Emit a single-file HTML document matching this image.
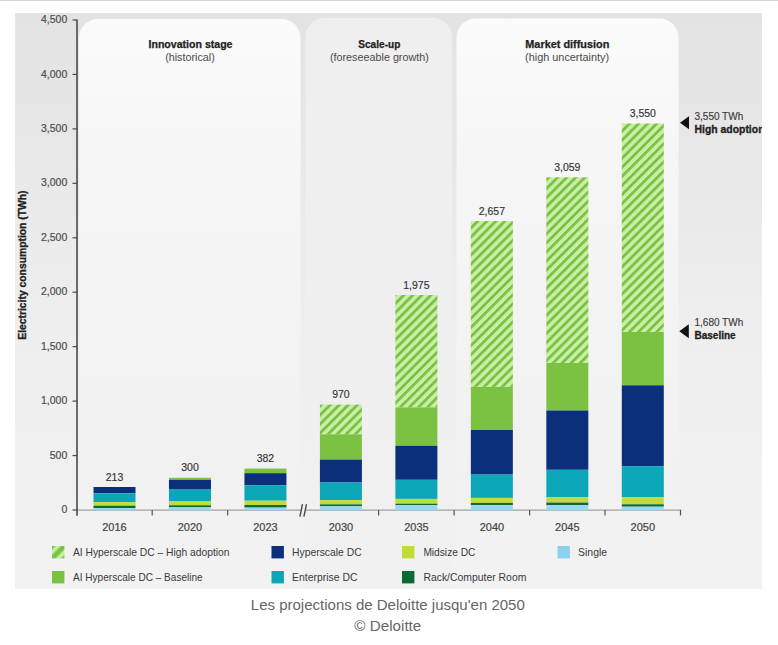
<!DOCTYPE html><html><head><meta charset="utf-8"><style>
html,body{margin:0;padding:0;background:#fff;}
body{width:778px;height:645px;position:relative;overflow:hidden;font-family:"Liberation Sans", sans-serif;}
svg{position:absolute;left:0;top:0;}
.cap{position:absolute;left:0;width:778px;text-align:center;font-size:14px;color:#616161;white-space:nowrap;}
</style></head><body>
<svg width="778" height="645" viewBox="0 0 778 645" font-family='"Liberation Sans", sans-serif'>
<defs>
<linearGradient id="bg" x1="0" y1="0" x2="0" y2="1"><stop offset="0" stop-color="#e3e3e3"/><stop offset="0.17" stop-color="#e6e6e6"/><stop offset="0.34" stop-color="#eaeaea"/><stop offset="0.53" stop-color="#eeeeee"/><stop offset="0.76" stop-color="#f0f0f0"/><stop offset="1" stop-color="#f2f2f2"/></linearGradient>
<linearGradient id="pw" x1="0" y1="0" x2="0" y2="1"><stop offset="0" stop-color="#fbfbfb"/><stop offset="0.16" stop-color="#f8f8f8"/><stop offset="0.25" stop-color="#f6f6f6"/><stop offset="0.53" stop-color="#f3f3f3"/><stop offset="0.8" stop-color="#f1f1f1"/><stop offset="1" stop-color="#f2f2f2"/></linearGradient>
<linearGradient id="pg" x1="0" y1="0" x2="0" y2="1"><stop offset="0" stop-color="#efefef"/><stop offset="0.6" stop-color="#efefef"/><stop offset="1" stop-color="#f1f1f1"/></linearGradient>
<pattern id="hatch" patternUnits="userSpaceOnUse" width="6.4" height="6.4" patternTransform="rotate(45)"><rect width="6.4" height="6.4" fill="#c8eea8"/><rect width="2.8" height="6.4" fill="#7cc242"/></pattern>
</defs>
<rect x="0" y="0" width="778" height="1" fill="#d4d4d4"/>
<rect x="15" y="13" width="747" height="576" fill="url(#bg)"/>
<path d="M79.0 588.0 V38.0 A19.0 19.0 0 0 1 98.0 19.0 H281.5 A19.0 19.0 0 0 1 300.5 38.0 V588.0 Z" fill="url(#pw)"/>
<path d="M305.5 588.0 V37.0 A19.0 19.0 0 0 1 324.5 18.0 H433.0 A19.0 19.0 0 0 1 452.0 37.0 V588.0 Z" fill="url(#pg)"/>
<path d="M456.5 588.0 V37.6 A19.0 19.0 0 0 1 475.5 18.6 H659.5 A19.0 19.0 0 0 1 678.5 37.6 V588.0 Z" fill="url(#pw)"/>
<text x="190.5" y="48" text-anchor="middle" font-size="10" font-weight="bold" fill="#222" stroke="#222" stroke-width="0.25" textLength="84.0" lengthAdjust="spacingAndGlyphs">Innovation stage</text>
<text x="190.0" y="60.8" text-anchor="middle" font-size="10" fill="#4a4a4a" textLength="49.7" lengthAdjust="spacingAndGlyphs">(historical)</text>
<text x="379.3" y="48" text-anchor="middle" font-size="10" font-weight="bold" fill="#222" stroke="#222" stroke-width="0.25" textLength="42.0" lengthAdjust="spacingAndGlyphs">Scale-up</text>
<text x="379.4" y="60.8" text-anchor="middle" font-size="10" fill="#4a4a4a" textLength="98.9" lengthAdjust="spacingAndGlyphs">(foreseeable growth)</text>
<text x="567.3" y="48" text-anchor="middle" font-size="10" font-weight="bold" fill="#222" stroke="#222" stroke-width="0.25" textLength="84.0" lengthAdjust="spacingAndGlyphs">Market diffusion</text>
<text x="567.1" y="60.8" text-anchor="middle" font-size="10" fill="#4a4a4a" textLength="84.0" lengthAdjust="spacingAndGlyphs">(high uncertainty)</text>
<line x1="77" y1="510" x2="681.2" y2="510" stroke="#a2a2a2" stroke-width="1.25"/>
<rect x="93.50" y="487.00" width="42" height="6.30" fill="#0c2f7c"/>
<rect x="93.50" y="493.30" width="42" height="8.90" fill="#0ba6b8"/>
<rect x="93.50" y="502.20" width="42" height="3.50" fill="#c0dc3a"/>
<rect x="93.50" y="505.70" width="42" height="2.30" fill="#0b6a36"/>
<rect x="93.50" y="508.00" width="42" height="2.30" fill="#9ad6ee"/>
<text x="114.5" y="480.7" text-anchor="middle" font-size="10.5" fill="#333" stroke="#333" stroke-width="0.15">213</text>
<text x="114.5" y="531.4" text-anchor="middle" font-size="11" fill="#444" stroke="#444" stroke-width="0.2">2016</text>
<rect x="168.97" y="477.80" width="42" height="2.00" fill="#7cc242"/>
<rect x="168.97" y="479.80" width="42" height="9.20" fill="#0c2f7c"/>
<rect x="168.97" y="489.00" width="42" height="12.00" fill="#0ba6b8"/>
<rect x="168.97" y="501.00" width="42" height="4.30" fill="#c0dc3a"/>
<rect x="168.97" y="505.30" width="42" height="2.00" fill="#0b6a36"/>
<rect x="168.97" y="507.30" width="42" height="3.00" fill="#9ad6ee"/>
<text x="190.0" y="470.8" text-anchor="middle" font-size="10.5" fill="#333" stroke="#333" stroke-width="0.15">300</text>
<text x="190.0" y="531.4" text-anchor="middle" font-size="11" fill="#444" stroke="#444" stroke-width="0.2">2020</text>
<rect x="244.44" y="468.60" width="42" height="4.60" fill="#7cc242"/>
<rect x="244.44" y="473.20" width="42" height="12.00" fill="#0c2f7c"/>
<rect x="244.44" y="485.20" width="42" height="15.50" fill="#0ba6b8"/>
<rect x="244.44" y="500.70" width="42" height="4.30" fill="#c0dc3a"/>
<rect x="244.44" y="505.00" width="42" height="2.60" fill="#0b6a36"/>
<rect x="244.44" y="507.60" width="42" height="2.70" fill="#9ad6ee"/>
<text x="265.4" y="462.3" text-anchor="middle" font-size="10.5" fill="#333" stroke="#333" stroke-width="0.15">382</text>
<text x="265.4" y="531.4" text-anchor="middle" font-size="11" fill="#444" stroke="#444" stroke-width="0.2">2023</text>
<rect x="319.91" y="404.60" width="42" height="29.70" fill="url(#hatch)"/>
<rect x="319.91" y="434.30" width="42" height="25.30" fill="#7cc242"/>
<rect x="319.91" y="459.60" width="42" height="22.90" fill="#0c2f7c"/>
<rect x="319.91" y="482.50" width="42" height="17.60" fill="#0ba6b8"/>
<rect x="319.91" y="500.10" width="42" height="4.30" fill="#c0dc3a"/>
<rect x="319.91" y="504.40" width="42" height="1.90" fill="#0b6a36"/>
<rect x="319.91" y="506.30" width="42" height="4.00" fill="#9ad6ee"/>
<text x="340.9" y="398.3" text-anchor="middle" font-size="10.5" fill="#333" stroke="#333" stroke-width="0.15">970</text>
<text x="340.9" y="531.4" text-anchor="middle" font-size="11" fill="#444" stroke="#444" stroke-width="0.2">2030</text>
<rect x="395.38" y="295.00" width="42" height="112.40" fill="url(#hatch)"/>
<rect x="395.38" y="407.40" width="42" height="38.40" fill="#7cc242"/>
<rect x="395.38" y="445.80" width="42" height="34.00" fill="#0c2f7c"/>
<rect x="395.38" y="479.80" width="42" height="19.10" fill="#0ba6b8"/>
<rect x="395.38" y="498.90" width="42" height="4.80" fill="#c0dc3a"/>
<rect x="395.38" y="503.70" width="42" height="1.50" fill="#0b6a36"/>
<rect x="395.38" y="505.20" width="42" height="5.10" fill="#9ad6ee"/>
<text x="416.4" y="288.7" text-anchor="middle" font-size="10.5" fill="#333" stroke="#333" stroke-width="0.15">1,975</text>
<text x="416.4" y="531.4" text-anchor="middle" font-size="11" fill="#444" stroke="#444" stroke-width="0.2">2035</text>
<rect x="470.85" y="221.00" width="42" height="165.90" fill="url(#hatch)"/>
<rect x="470.85" y="386.90" width="42" height="43.10" fill="#7cc242"/>
<rect x="470.85" y="430.00" width="42" height="44.60" fill="#0c2f7c"/>
<rect x="470.85" y="474.60" width="42" height="23.30" fill="#0ba6b8"/>
<rect x="470.85" y="497.90" width="42" height="5.00" fill="#c0dc3a"/>
<rect x="470.85" y="502.90" width="42" height="2.20" fill="#0b6a36"/>
<rect x="470.85" y="505.10" width="42" height="5.20" fill="#9ad6ee"/>
<text x="491.9" y="214.7" text-anchor="middle" font-size="10.5" fill="#333" stroke="#333" stroke-width="0.15">2,657</text>
<text x="491.9" y="531.4" text-anchor="middle" font-size="11" fill="#444" stroke="#444" stroke-width="0.2">2040</text>
<rect x="546.32" y="177.30" width="42" height="185.70" fill="url(#hatch)"/>
<rect x="546.32" y="363.00" width="42" height="47.50" fill="#7cc242"/>
<rect x="546.32" y="410.50" width="42" height="59.30" fill="#0c2f7c"/>
<rect x="546.32" y="469.80" width="42" height="27.30" fill="#0ba6b8"/>
<rect x="546.32" y="497.10" width="42" height="5.50" fill="#c0dc3a"/>
<rect x="546.32" y="502.60" width="42" height="2.60" fill="#0b6a36"/>
<rect x="546.32" y="505.20" width="42" height="5.10" fill="#9ad6ee"/>
<text x="567.3" y="171.0" text-anchor="middle" font-size="10.5" fill="#333" stroke="#333" stroke-width="0.15">3,059</text>
<text x="567.3" y="531.4" text-anchor="middle" font-size="11" fill="#444" stroke="#444" stroke-width="0.2">2045</text>
<rect x="621.79" y="123.50" width="42" height="208.50" fill="url(#hatch)"/>
<rect x="621.79" y="332.00" width="42" height="53.30" fill="#7cc242"/>
<rect x="621.79" y="385.30" width="42" height="80.90" fill="#0c2f7c"/>
<rect x="621.79" y="466.20" width="42" height="31.10" fill="#0ba6b8"/>
<rect x="621.79" y="497.30" width="42" height="7.00" fill="#c0dc3a"/>
<rect x="621.79" y="504.30" width="42" height="2.40" fill="#0b6a36"/>
<rect x="621.79" y="506.70" width="42" height="3.60" fill="#9ad6ee"/>
<text x="642.8" y="117.2" text-anchor="middle" font-size="10.5" fill="#333" stroke="#333" stroke-width="0.15">3,550</text>
<text x="642.8" y="531.4" text-anchor="middle" font-size="11" fill="#444" stroke="#444" stroke-width="0.2">2050</text>
<line x1="152.2" y1="510" x2="152.2" y2="515.5" stroke="#555" stroke-width="1.2"/>
<line x1="227.7" y1="510" x2="227.7" y2="515.5" stroke="#555" stroke-width="1.2"/>
<line x1="378.6" y1="510" x2="378.6" y2="515.5" stroke="#555" stroke-width="1.2"/>
<line x1="454.1" y1="510" x2="454.1" y2="515.5" stroke="#555" stroke-width="1.2"/>
<line x1="529.6" y1="510" x2="529.6" y2="515.5" stroke="#555" stroke-width="1.2"/>
<line x1="605.0" y1="510" x2="605.0" y2="515.5" stroke="#555" stroke-width="1.2"/>
<line x1="680.5" y1="510" x2="680.5" y2="515.5" stroke="#555" stroke-width="1.2"/>
<path d="M302.6 506 L306.2 506 L304.4 514 L300.8 514 Z" fill="#f1f1f1"/>
<line x1="302.5" y1="504.2" x2="299.9" y2="516.6" stroke="#484848" stroke-width="1.4"/>
<line x1="306.5" y1="504.2" x2="303.9" y2="516.6" stroke="#484848" stroke-width="1.4"/>
<line x1="77" y1="19.5" x2="77" y2="515.8" stroke="#4a4a4a" stroke-width="1.6"/>
<line x1="72.5" y1="510.00" x2="77" y2="510.00" stroke="#4a4a4a" stroke-width="1.2"/>
<text x="67.3" y="513.10" text-anchor="end" font-size="10.5" fill="#4d4d4d" stroke="#4d4d4d" stroke-width="0.2">0</text>
<line x1="72.5" y1="455.56" x2="77" y2="455.56" stroke="#4a4a4a" stroke-width="1.2"/>
<text x="67.3" y="458.66" text-anchor="end" font-size="10.5" fill="#4d4d4d" stroke="#4d4d4d" stroke-width="0.2">500</text>
<line x1="72.5" y1="401.11" x2="77" y2="401.11" stroke="#4a4a4a" stroke-width="1.2"/>
<text x="67.3" y="404.21" text-anchor="end" font-size="10.5" fill="#4d4d4d" stroke="#4d4d4d" stroke-width="0.2">1,000</text>
<line x1="72.5" y1="346.67" x2="77" y2="346.67" stroke="#4a4a4a" stroke-width="1.2"/>
<text x="67.3" y="349.77" text-anchor="end" font-size="10.5" fill="#4d4d4d" stroke="#4d4d4d" stroke-width="0.2">1,500</text>
<line x1="72.5" y1="292.22" x2="77" y2="292.22" stroke="#4a4a4a" stroke-width="1.2"/>
<text x="67.3" y="295.32" text-anchor="end" font-size="10.5" fill="#4d4d4d" stroke="#4d4d4d" stroke-width="0.2">2,000</text>
<line x1="72.5" y1="237.78" x2="77" y2="237.78" stroke="#4a4a4a" stroke-width="1.2"/>
<text x="67.3" y="240.88" text-anchor="end" font-size="10.5" fill="#4d4d4d" stroke="#4d4d4d" stroke-width="0.2">2,500</text>
<line x1="72.5" y1="183.33" x2="77" y2="183.33" stroke="#4a4a4a" stroke-width="1.2"/>
<text x="67.3" y="186.43" text-anchor="end" font-size="10.5" fill="#4d4d4d" stroke="#4d4d4d" stroke-width="0.2">3,000</text>
<line x1="72.5" y1="128.89" x2="77" y2="128.89" stroke="#4a4a4a" stroke-width="1.2"/>
<text x="67.3" y="131.99" text-anchor="end" font-size="10.5" fill="#4d4d4d" stroke="#4d4d4d" stroke-width="0.2">3,500</text>
<line x1="72.5" y1="74.44" x2="77" y2="74.44" stroke="#4a4a4a" stroke-width="1.2"/>
<text x="67.3" y="77.54" text-anchor="end" font-size="10.5" fill="#4d4d4d" stroke="#4d4d4d" stroke-width="0.2">4,000</text>
<line x1="72.5" y1="20.00" x2="77" y2="20.00" stroke="#4a4a4a" stroke-width="1.2"/>
<text x="67.3" y="23.10" text-anchor="end" font-size="10.5" fill="#4d4d4d" stroke="#4d4d4d" stroke-width="0.2">4,500</text>
<text transform="translate(26.2 265.1) rotate(-90)" text-anchor="middle" font-size="10.5" font-weight="bold" fill="#222" stroke="#222" stroke-width="0.3" textLength="149.3" lengthAdjust="spacingAndGlyphs">Electricity consumption (TWh)</text>
<path d="M680 122.7 L689 116.3 L689 129.3 Z" fill="#111"/>
<text x="694.5" y="120" font-size="10" fill="#3a3a3a" stroke="#3a3a3a" stroke-width="0.15">3,550 TWh</text>
<text x="694.5" y="132.6" font-size="10" font-weight="bold" fill="#222" stroke="#222" stroke-width="0.3" textLength="70" lengthAdjust="spacingAndGlyphs">High adoption</text>
<path d="M679.3 331.3 L688.8 324.3 L688.8 338.3 Z" fill="#111"/>
<text x="694.5" y="326.3" font-size="10" fill="#3a3a3a" stroke="#3a3a3a" stroke-width="0.15">1,680 TWh</text>
<text x="694.5" y="338.9" font-size="10" font-weight="bold" fill="#222" stroke="#222" stroke-width="0.3">Baseline</text>
<rect x="762" y="13" width="16" height="580" fill="#fff"/>
<defs><pattern id="lhatch" patternUnits="userSpaceOnUse" width="8.77" height="8.77" patternTransform="translate(52.0 546.0) rotate(45)"><rect width="8.77" height="8.77" fill="#c8eea8"/><rect width="2.5" height="8.77" fill="#7cc242"/><rect x="6.27" width="2.5" height="8.77" fill="#7cc242"/></pattern></defs>
<rect x="52.0" y="546.0" width="12.4" height="12.4" fill="url(#lhatch)"/>
<text x="73.0" y="555.8" font-size="11" fill="#3a3a3a" textLength="156.5" lengthAdjust="spacingAndGlyphs">AI Hyperscale DC – High adoption</text>
<rect x="52.0" y="571.0" width="12.4" height="12.4" fill="#7cc242"/>
<text x="73.0" y="580.8" font-size="11" fill="#3a3a3a" textLength="129.7" lengthAdjust="spacingAndGlyphs">AI Hyperscale DC – Baseline</text>
<rect x="271.5" y="546.0" width="12.4" height="12.4" fill="#0c2f7c"/>
<text x="292.1" y="555.8" font-size="11" fill="#3a3a3a" textLength="69.5" lengthAdjust="spacingAndGlyphs">Hyperscale DC</text>
<rect x="271.5" y="571.0" width="12.4" height="12.4" fill="#0ba6b8"/>
<text x="292.1" y="580.8" font-size="11" fill="#3a3a3a" textLength="65.4" lengthAdjust="spacingAndGlyphs">Enterprise DC</text>
<rect x="402.0" y="546.0" width="12.4" height="12.4" fill="#c0dc3a"/>
<text x="423.4" y="555.8" font-size="11" fill="#3a3a3a" textLength="52.0" lengthAdjust="spacingAndGlyphs">Midsize DC</text>
<rect x="402.0" y="571.0" width="12.4" height="12.4" fill="#0b6a36"/>
<text x="423.4" y="580.8" font-size="11" fill="#3a3a3a" textLength="103.0" lengthAdjust="spacingAndGlyphs">Rack/Computer Room</text>
<rect x="557.5" y="546.0" width="12.4" height="12.4" fill="#8ad1f0"/>
<text x="578.1" y="555.8" font-size="11" fill="#3a3a3a" textLength="29.0" lengthAdjust="spacingAndGlyphs">Single</text>
<text x="387.8" y="609.5" text-anchor="middle" font-size="14" fill="#666" textLength="274" lengthAdjust="spacingAndGlyphs">Les projections de Deloitte jusqu'en 2050</text>
<text x="387.8" y="630.5" text-anchor="middle" font-size="14" fill="#666" textLength="67" lengthAdjust="spacingAndGlyphs">© Deloitte</text>
</svg>
</body></html>
